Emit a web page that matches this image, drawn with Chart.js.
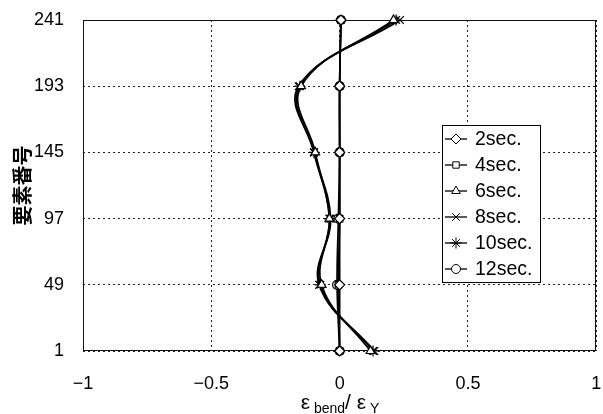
<!DOCTYPE html>
<html>
<head>
<meta charset="utf-8">
<script src="https://cdn.jsdelivr.net/npm/chart.js"></script>
<style>
  html, body { margin: 0; padding: 0; background: #fff; }
  #wrap { width: 603px; height: 414px; }
</style>
</head>
<body>
<div id="wrap"><canvas id="bendChart" width="603" height="414"></canvas></div>
<script>
// element numbers (y) and series values (x = eps_bend / eps_Y)
const elementNo = [1, 49, 97, 145, 193, 241];
const seriesNames = ['2sec.', '4sec.', '6sec.', '8sec.', '10sec.', '12sec.'];
const s2sec  = [0, 0, 0, 0, 0, 0.005];
const s4sec  = [0, -0.005, 0, 0, 0, 0.005];
const s6sec  = [0.12, -0.07, -0.04, -0.095, -0.15, 0.21];
const s8sec  = [0.135, -0.08, -0.035, -0.1, -0.16, 0.235];
const s10sec = [0.13, -0.075, -0.04, -0.1, -0.155, 0.22];
const s12sec = [0, -0.01, -0.005, 0, 0, 0.005];
const xTicks = [-1, -0.5, 0, 0.5, 1];
const yTicks = [1, 49, 97, 145, 193, 241];

const seriesValues = [s2sec, s4sec, s6sec, s8sec, s10sec, s12sec];
const markers = [
  { style: 'rectRot', radius: 5 },
  { style: 'rect', radius: 4.5 },
  { style: 'triangle', radius: 5 },
  { style: 'crossRot', radius: 5.5 },
  { style: 'star', radius: 5.5 },
  { style: 'circle', radius: 4.5 }
];

const datasets = seriesValues.map((vals, i) => ({
  label: seriesNames[i],
  data: vals.map((v, k) => ({ x: v, y: elementNo[k] })),
  showLine: true,
  borderColor: '#000',
  borderWidth: 1.7,
  tension: 0.4,
  pointStyle: markers[i].style,
  pointRadius: markers[i].radius,
  pointBorderColor: '#000',
  pointBorderWidth: 1.2,
  pointBackgroundColor: '#fff',
  clip: false
}));

function drawMarker(ctx, style, r, x, y) {
  if (Chart.helpers && Chart.helpers.drawPoint) {
    Chart.helpers.drawPoint(ctx, { pointStyle: style, radius: r, rotation: 0, borderWidth: 1 }, x, y);
    return;
  }
  ctx.beginPath();
  ctx.arc(x, y, r, 0, Math.PI * 2);
  ctx.fill();
  ctx.stroke();
}

const framePlugin = {
  id: 'frame',
  beforeDatasetsDraw(chart) {
    const { ctx, chartArea: a } = chart;
    ctx.save();
    ctx.strokeStyle = '#111';
    ctx.lineWidth = 1;
    ctx.strokeRect(Math.round(a.left) + 0.5, Math.round(a.top) + 0.5, Math.round(a.width) - 1, Math.round(a.height) - 1);
    ctx.restore();
  },
  afterDraw(chart) {
    const { ctx, chartArea: a } = chart;
    ctx.save();
    ctx.fillStyle = '#000';
    // y title
    ctx.translate(22, (a.top + a.bottom) / 2);
    ctx.rotate(-Math.PI / 2);
    ctx.font = 'bold 20px "Noto Sans CJK JP"';
    ctx.textAlign = 'center';
    ctx.textBaseline = 'middle';
    ctx.fillText('要素番号', 0, 0);
    ctx.restore();

    // x title with subscripts
    ctx.save();
    ctx.fillStyle = '#000';
    ctx.textBaseline = 'alphabetic';
    ctx.textAlign = 'left';
    const big = '21px "Liberation Sans"';
    const small = '14px "Liberation Sans"';
    const parts = [
      { t: 'ε', f: big, dy: 0 },
      { t: ' bend', f: small, dy: 4 },
      { t: '/ ', f: big, dy: 0 },
      { t: 'ε', f: big, dy: 0 },
      { t: ' Y', f: small, dy: 4 }
    ];
    let w = 0;
    parts.forEach(p => { ctx.font = p.f; w += ctx.measureText(p.t).width; });
    let x = 340 - w / 2;
    const base = 409;
    parts.forEach(p => {
      ctx.font = p.f;
      ctx.fillText(p.t, x, base + p.dy);
      x += ctx.measureText(p.t).width;
    });
    ctx.restore();

    // legend box
    ctx.save();
    const bx = 442, by = 125, bw = 98, bh = 157;
    ctx.fillStyle = '#fff';
    ctx.fillRect(bx, by, bw, bh);
    ctx.strokeStyle = '#000';
    ctx.lineWidth = 1;
    ctx.strokeRect(bx + 0.5, by + 0.5, bw, bh);
    ctx.font = '19.5px "Liberation Sans"';
    ctx.textBaseline = 'middle';
    chart.data.datasets.forEach((ds, i) => {
      const ry = by + 14 + i * 26;
      ctx.strokeStyle = '#000';
      ctx.lineWidth = 1.3;
      ctx.beginPath();
      ctx.moveTo(bx + 3, ry);
      ctx.lineTo(bx + 25, ry);
      ctx.stroke();
      ctx.fillStyle = '#fff';
      ctx.lineWidth = 1;
      drawMarker(ctx, ds.pointStyle, ds.pointRadius, bx + 14, ry);
      ctx.fillStyle = '#000';
      ctx.fillText(ds.label, bx + 33, ry + 1);
    });
    ctx.restore();
  }
};

new Chart(document.getElementById('bendChart'), {
  type: 'scatter',
  data: { datasets: datasets },
  plugins: [framePlugin],
  options: {
    responsive: false,
    animation: false,
    layout: { padding: { top: 20, right: 6, left: 0, bottom: 0 } },
    plugins: { legend: { display: false }, tooltip: { enabled: false } },
    scales: {
      x: {
        type: 'linear',
        min: -1,
        max: 1,
        afterBuildTicks: s => { s.ticks = xTicks.map(v => ({ value: v })); },
        afterFit: s => { s.height = 63; s.paddingLeft = 0; s.paddingRight = 0; },
        grid: { color: '#222', drawTicks: false },
        border: { display: false, dash: [2, 3] },
        ticks: {
          padding: 22,
          color: '#000',
          font: { family: 'Liberation Sans', size: 18 },
          callback: v => String(v).replace('-', '\u2212')
        }
      },
      y: {
        type: 'linear',
        min: 1,
        max: 241,
        afterBuildTicks: s => { s.ticks = yTicks.map(v => ({ value: v })); },
        afterFit: s => { s.width = 83; s.paddingTop = 0; s.paddingBottom = 0; },
        grid: { color: '#222', drawTicks: false },
        border: { display: false, dash: [2, 3] },
        ticks: {
          padding: 19,
          color: '#000',
          font: { family: 'Liberation Sans', size: 18 }
        }
      }
    }
  }
});
</script>
</body>
</html>
